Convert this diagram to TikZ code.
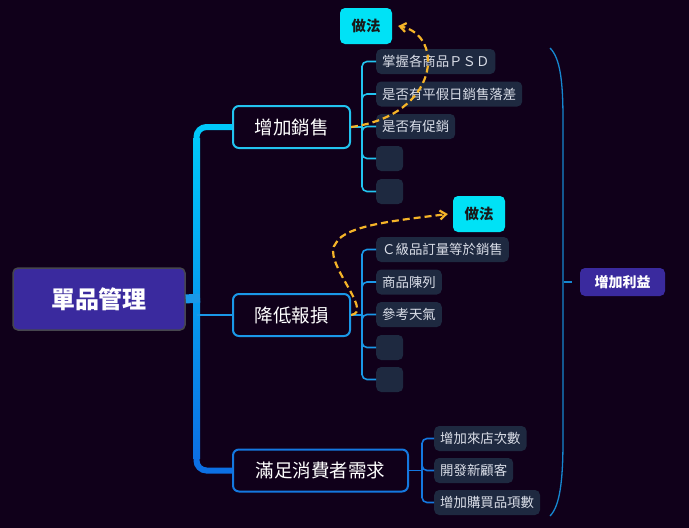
\documentclass[tikz,border=0pt]{standalone}
\usepackage{fontspec}
\newfontfamily\cjk{Noto Sans CJK TC}
\usetikzlibrary{arrows.meta}
\definecolor{bg}{RGB}{16,0,26}
\definecolor{rootfill}{RGB}{58,42,158}
\definecolor{rootborder}{RGB}{70,70,78}
\definecolor{leaffill}{RGB}{30,41,64}
\definecolor{leaftext}{RGB}{218,222,232}
\definecolor{cyanA}{RGB}{34,196,240}
\definecolor{blueB}{RGB}{26,152,232}
\definecolor{blueC}{RGB}{20,120,224}
\definecolor{trunkTop}{RGB}{0,200,250}
\definecolor{trunkBot}{RGB}{12,112,228}
\definecolor{howfill}{RGB}{0,226,246}
\definecolor{dash}{RGB}{245,180,40}
\definecolor{brace}{RGB}{22,135,208}
\tikzset{
  rootbox/.style={draw=rootborder, line width=1.5pt, fill=rootfill, rounded corners=5pt,
    minimum width=172pt, minimum height=62pt, text=white, font=\cjk\bfseries\fontsize{24}{28}\selectfont},
  branchbox/.style={draw=#1, line width=2pt, fill=bg, rounded corners=6pt,
    minimum height=42pt, text=white, font=\cjk\fontsize{18.5}{22}\selectfont},
  leaf/.style={fill=leaffill, rounded corners=5pt, anchor=west, minimum height=25pt,
    minimum width=27pt, inner xsep=6pt, text=leaftext, font=\cjk\fontsize{13.4}{15}\selectfont},
  howbox/.style={fill=howfill, rounded corners=5pt, minimum width=52pt, minimum height=36pt,
    text=black!90, font=\cjk\bfseries\fontsize{14.5}{16}\selectfont},
  goalbox/.style={fill=rootfill, rounded corners=5pt, minimum width=85pt, minimum height=28pt,
    text=white, font=\cjk\bfseries\fontsize{14}{16}\selectfont},
  bracket/.style={draw=#1, line width=1.6pt, rounded corners=5pt},
  dasharrow/.style={draw=dash, line width=2.2pt, dash pattern=on 7pt off 4pt, -{Straight Barb[length=6pt,width=9pt]}},
}
\begin{document}
\begin{tikzpicture}[x=1pt,y=-1pt]
\useasboundingbox[fill=bg] (0,0) rectangle (689,528);

% root
\node[rootbox] (root) at (99,299) {單品管理};

% branches
\node[branchbox=cyanA, minimum width=117pt] (b1) at (291.5,127) {增加銷售};
\node[branchbox=blueB, minimum width=117pt] (b2) at (291.5,315) {降低報損};
\node[branchbox=blueC, minimum width=175pt] (b3) at (320.5,470.5) {滿足消費者需求};

% trunk
\shade[top color=trunkTop, bottom color=trunkBot] (193,138) rectangle (200,458);
\coordinate (tt) at (196.5,140);
\coordinate (tb) at (196.5,456);
\coordinate (tm) at (196.5,315);
\coordinate (tr) at (200,298);
\draw[trunkTop, line width=6pt, rounded corners=10pt] (tt) |- (b1.west);
\draw[trunkBot, line width=6pt, rounded corners=10pt] (tb) |- (b3.west);
\draw[blueB, line width=2pt] (tm) -- (b2.west);
\draw[blueB, line width=9pt] (root.east) -- (tr);

% leaves of branch 1
\node[leaf] (l11) at (376,61.5) {掌握各商品ＰＳＤ};
\node[leaf] (l12) at (376,94) {是否有平假日銷售落差};
\node[leaf] (l13) at (376,126.5) {是否有促銷};
\node[leaf] (l14) at (376,158.5) {};
\node[leaf] (l15) at (376,191.5) {};
\coordinate (j1) at (362,127);
\draw[cyanA, line width=1.6pt] (b1.east) -- (j1);
\foreach \n in {l11,l12,l13,l14,l15} \draw[bracket=cyanA] (j1) |- (\n.west);

% leaves of branch 2
\node[leaf] (l21) at (376,249.5) {Ｃ級品訂量等於銷售};
\node[leaf] (l22) at (376,282) {商品陳列};
\node[leaf] (l23) at (376,314.5) {參考天氣};
\node[leaf] (l24) at (376,347.5) {};
\node[leaf] (l25) at (376,379.5) {};
\coordinate (j2) at (362,315);
\draw[blueB, line width=1.6pt] (b2.east) -- (j2);
\foreach \n in {l21,l22,l23,l24,l25} \draw[bracket=blueB] (j2) |- (\n.west);

% leaves of branch 3
\node[leaf] (l31) at (434,438.5) {增加來店次數};
\node[leaf] (l32) at (434,470.5) {開發新顧客};
\node[leaf] (l33) at (434,502.5) {增加購買品項數};
\coordinate (j3) at (422,470.5);
\draw[blueC, line width=1.6pt] (b3.east) -- (j3);
\foreach \n in {l31,l32,l33} \draw[bracket=blueC] (j3) |- (\n.west);

% method boxes
\node[howbox] (m1) at (366,26) {做法};
\node[howbox] (m2) at (479,214) {做法};
\draw[dasharrow] (b1.east) .. controls (440,115) and (445,35) .. ([xshift=6pt]m1.east);
\draw[dasharrow] (b2.east) .. controls (375,312) and (320,260) .. (336,243) .. controls (345,225) and (400,220) .. ([xshift=-5pt]m2.west);

% right brace and goal
\node[goalbox] (goal) at (622.5,282) {增加利益};
\coordinate (bt) at (550,48);
\coordinate (bb) at (550,516);
\coordinate (bm) at (564,282);
\coordinate (bk) at (572,282);
\draw[brace, line width=1.3pt] (bt) .. controls (560,58) and (563,80) .. (563,120) -- (563,440) .. controls (563,480) and (560,506) .. (bb);
\draw[brace, line width=1.3pt] (bm) -- (bk);
\end{tikzpicture}
\end{document}
